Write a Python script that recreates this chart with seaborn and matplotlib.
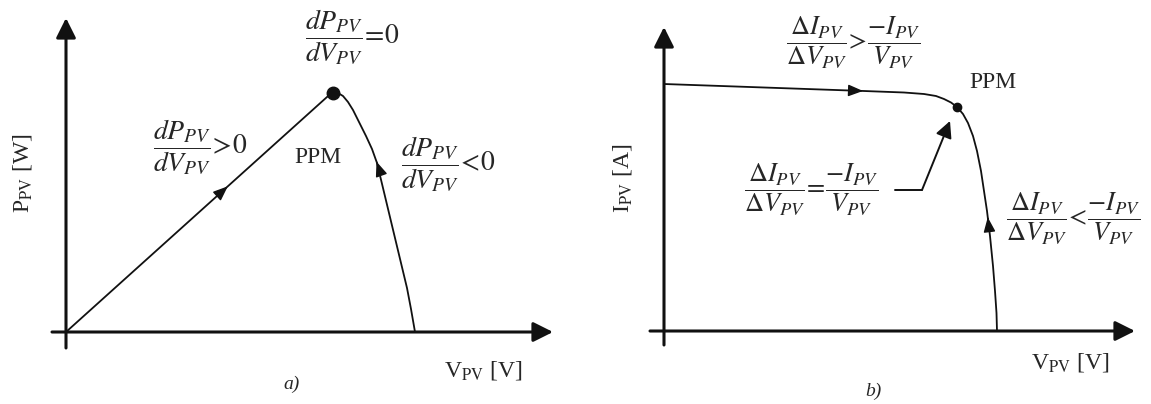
import matplotlib
matplotlib.use("Agg")
import matplotlib.pyplot as plt
import numpy as np
import pandas as pd
import seaborn as sns

# P-V characteristic (panel a)
v_pv_a = [0.0, 26.1, 26.4, 26.7, 27.2, 27.7, 28.2, 28.7, 29.3, 30.0, 30.6, 31.1,
          31.7, 32.3, 32.9, 33.5, 34.1, 34.5, 34.9]
p_pv_a = [0.0, 23.5, 23.75, 23.9, 23.9, 23.6, 23.0, 22.2, 21.0, 19.6, 18.3, 16.9,
          14.4, 11.9, 9.4, 6.9, 4.4, 2.3, 0.0]
mpp_a = (26.7, 23.9)

# I-V characteristic (panel b)
v_pv_b = [0.0, 10.0, 20.0, 24.0, 26.0, 27.2, 28.0, 28.7, 29.3, 29.9, 30.4, 30.9,
          31.3, 31.7, 32.0, 32.3, 32.6, 32.9, 33.1, 33.25, 33.3]
i_pv_b = [24.7, 24.35, 24.0, 23.85, 23.7, 23.5, 23.2, 22.85, 22.4, 21.7, 20.8, 19.5,
          18.0, 16.0, 14.0, 12.0, 9.5, 6.5, 4.0, 1.8, 0.0]
mpp_b = (29.3, 22.4)

sns.set_theme(style="white")
plt.rcParams["font.family"] = ["Liberation Serif", "DejaVu Serif"]
plt.rcParams["mathtext.fontset"] = "stix"

W, H = 1151, 404
fig = plt.figure(figsize=(W / 100, H / 100), dpi=100)
fig.patch.set_facecolor("white")

ax_a = fig.add_axes([0, 0, 575 / W, 1])
ax_b = fig.add_axes([575 / W, 0, 576 / W, 1])
ax_a.set_xlim(-6.6, 50.9)
ax_a.set_ylim(-7.2, 33.2)
ax_b.set_xlim(-8.9, 48.7)
ax_b.set_ylim(-7.3, 33.1)
for ax in (ax_a, ax_b):
    ax.set_axis_off()

INK = "#111111"


def axis_arrows(ax, x0, x1, y0, y1):
    kw = dict(arrowstyle="-|>,head_length=0.5,head_width=0.25", mutation_scale=24,
              color=INK, lw=2.2, shrinkA=0, shrinkB=0)
    ax.annotate("", xy=(x1, 0), xytext=(x0, 0), arrowprops=kw)
    ax.annotate("", xy=(0, y1), xytext=(0, y0), arrowprops=kw)


def flow_arrow(ax, xs, ys, i, t, reverse=False, size=18):
    # arrowhead placed on segment i of the curve, pointing along the curve
    p0 = np.array([xs[i], ys[i]])
    p1 = np.array([xs[i + 1], ys[i + 1]])
    if reverse:
        p0, p1 = p1, p0
    tail = p0 + (t - 0.04) * (p1 - p0)
    tip = p0 + t * (p1 - p0)
    ax.annotate("", xy=tip, xytext=tail,
                arrowprops=dict(arrowstyle="-|>,head_length=0.5,head_width=0.2",
                                mutation_scale=size, color=INK,
                                lw=1.0, shrinkA=0, shrinkB=0))


# ---- panel a: power versus voltage ----
df_a = pd.DataFrame({"V": v_pv_a, "P": p_pv_a})
sns.lineplot(data=df_a, x="V", y="P", ax=ax_a, color=INK, lw=1.3, sort=False)
axis_arrows(ax_a, -1.4, 48.7, -1.6, 31.4)
ax_a.plot(*mpp_a, "o", color=INK, ms=9)
flow_arrow(ax_a, v_pv_a, p_pv_a, 0, 0.62)
flow_arrow(ax_a, v_pv_a, p_pv_a, 10, 0.1, reverse=True)

fa = 20
ax_a.text(28.6, 29.5, r"$\dfrac{dP_{PV}}{dV_{PV}}\!=\!0$", fontsize=fa, ha="center", va="center")
ax_a.text(13.4, 18.5, r"$\dfrac{dP_{PV}}{dV_{PV}}\!>\!0$", fontsize=fa, ha="center", va="center")
ax_a.text(38.2, 16.8, r"$\dfrac{dP_{PV}}{dV_{PV}}\!<\!0$", fontsize=fa, ha="center", va="center")
ax_a.text(25.2, 17.5, "PPM", fontsize=17, ha="center", va="center")
ax_a.text(-4.3, 15.9, r"P$_{\mathrm{PV}}$ [W]", fontsize=17, ha="center", va="center", rotation=90)
ax_a.text(41.7, -3.8, r"V$_{\mathrm{PV}}$ [V]", fontsize=17, ha="center", va="center")
ax_a.text(22.6, -5.2, "a)", fontsize=14, style="italic", ha="center", va="center")

# ---- panel b: current versus voltage ----
fb = 19
df_b = pd.DataFrame({"V": v_pv_b, "I": i_pv_b})
sns.lineplot(data=df_b, x="V", y="I", ax=ax_b, color=INK, lw=1.3, sort=False)
axis_arrows(ax_b, -1.4, 47.1, -1.4, 30.4)
ax_b.plot(*mpp_b, "o", color=INK, ms=6)
flow_arrow(ax_b, v_pv_b, i_pv_b, 1, 0.99)
flow_arrow(ax_b, v_pv_b, i_pv_b, 15, 0.75, reverse=True)

ax_b.text(18.9, 28.8, r"$\dfrac{\Delta I_{PV}}{\Delta V_{PV}}\!>\!\dfrac{-I_{PV}}{V_{PV}}$",
          fontsize=fb, ha="center", va="center")
ax_b.text(14.75, 14.1, r"$\dfrac{\Delta I_{PV}}{\Delta V_{PV}}\!=\!\dfrac{-I_{PV}}{V_{PV}}$",
          fontsize=fb, ha="center", va="center")
ax_b.text(40.9, 11.2, r"$\dfrac{\Delta I_{PV}}{\Delta V_{PV}}\!<\!\dfrac{-I_{PV}}{V_{PV}}$",
          fontsize=fb, ha="center", va="center")
ax_b.text(32.9, 24.8, "PPM", fontsize=17, ha="center", va="center")

# leader from the equality condition to the maximum power point
ax_b.plot([23.1, 25.8], [14.1, 14.1], color=INK, lw=1.4)
ax_b.annotate("", xy=(28.6, 21.0), xytext=(25.8, 14.1),
              arrowprops=dict(arrowstyle="-|>,head_length=0.5,head_width=0.25",
                              mutation_scale=20, color=INK,
                              lw=1.4, shrinkA=0, shrinkB=0))

ax_b.text(-4.1, 15.3, r"I$_{\mathrm{PV}}$ [A]", fontsize=17, ha="center", va="center", rotation=90)
ax_b.text(40.6, -3.1, r"V$_{\mathrm{PV}}$ [V]", fontsize=17, ha="center", va="center")
ax_b.text(20.9, -6.0, "b)", fontsize=14, style="italic", ha="center", va="center")

fig.savefig("out.png", dpi=100, facecolor="white")
